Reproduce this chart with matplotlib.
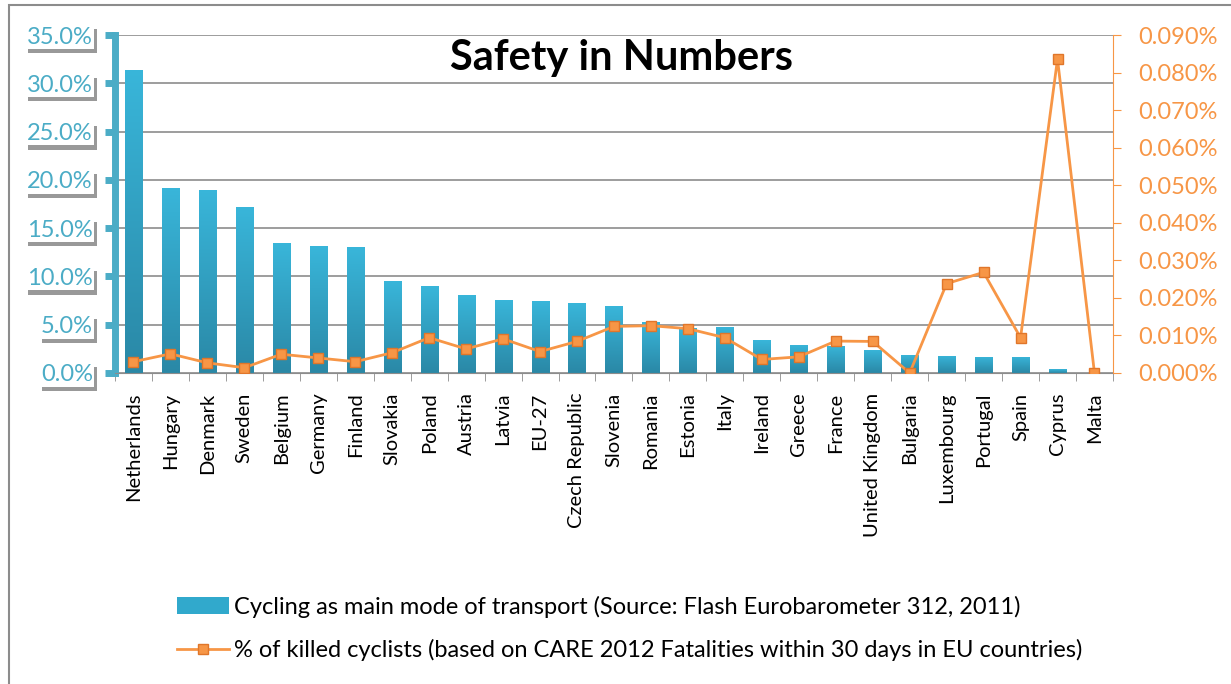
import numpy as np
import matplotlib
matplotlib.use('Agg')
import matplotlib.pyplot as plt
import matplotlib.patheffects as pe
from matplotlib.patches import Rectangle
from matplotlib.ticker import FuncFormatter, MultipleLocator

countries = ['Netherlands', 'Hungary', 'Denmark', 'Sweden', 'Belgium', 'Germany',
             'Finland', 'Slovakia', 'Poland', 'Austria', 'Latvia', 'EU-27',
             'Czech Republic', 'Slovenia', 'Romania', 'Estonia', 'Italy', 'Ireland',
             'Greece', 'France', 'United Kingdom', 'Bulgaria', 'Luxembourg',
             'Portugal', 'Spain', 'Cyprus', 'Malta']
# cycling as main mode of transport (%)
cycling = [31.4, 19.2, 19.0, 17.2, 13.5, 13.1, 13.0, 9.5, 9.0, 8.1, 7.6, 7.45,
           7.2, 6.9, 5.3, 4.7, 4.8, 3.4, 2.9, 2.8, 2.4, 1.9, 1.8, 1.7, 1.7, 0.4, 0.0]
# killed cyclists (%)
killed = [0.0030, 0.0051, 0.0027, 0.0014, 0.0050, 0.0040, 0.0030, 0.0054, 0.0094,
          0.0064, 0.0091, 0.0057, 0.0084, 0.0124, 0.0126, 0.0118, 0.0094, 0.0036,
          0.0043, 0.0085, 0.0084, 0.0000, 0.0238, 0.0268, 0.0094, 0.0836, 0.0000]

plt.rcParams['font.family'] = ['Lato', 'DejaVu Sans']

fig = plt.figure(figsize=(12.31, 6.84), dpi=100)
ax = fig.add_axes([0.0934, 0.4547, 0.8107, 0.4941])
ax2 = ax.twinx()

x = np.arange(len(countries))
bars = ax.bar(x, cycling, width=0.46, color='#31A9CC', zorder=2,
              label='Cycling as main mode of transport (Source: Flash Eurobarometer 312, 2011)')

# vertical gradient inside each bar
grad = np.linspace(0, 1, 256).reshape(-1, 1)
cmap = matplotlib.colors.LinearSegmentedColormap.from_list('bar', ['#2A88A6', '#39B6DA'])
for b in bars:
    if b.get_height() <= 0:
        continue
    im = ax.imshow(grad, cmap=cmap, origin='lower', aspect='auto', zorder=2.5,
                   extent=[b.get_x(), b.get_x() + b.get_width(), 0, b.get_height()])
    im.set_clip_path(b)

ax.set_xlim(-0.5, len(countries) - 0.5)
ax.set_ylim(0, 35)
ax.yaxis.set_major_locator(MultipleLocator(5))
ax.yaxis.set_major_formatter(FuncFormatter(lambda v, p: f'{v:.1f}%'))
ax.grid(axis='y', color='#8C8C8C', linewidth=1.2, zorder=0)
ax.set_axisbelow(True)

ax.set_xticks(x)
ax.set_xticklabels(countries, rotation=90, fontsize=14.5)
ax.set_xticks(np.arange(len(countries) + 1) - 0.5, minor=True)
ax.tick_params(axis='x', which='major', length=0, pad=14)
ax.tick_params(axis='x', which='minor', length=6, color='#8C8C8C')

ax.spines['left'].set_color('#4BACC6')
ax.spines['left'].set_linewidth(5)
ax.spines['bottom'].set_color('#8C8C8C')
ax.spines['top'].set_visible(False)
ax.spines['right'].set_visible(False)
ax.tick_params(axis='y', which='major', length=7, width=5, color='#4BACC6',
               labelcolor='#4BACC6', labelsize=17, pad=9)
for lbl in ax.get_yticklabels():
    lbl.set_bbox(dict(facecolor='white', edgecolor='none', pad=1))
    lbl.get_bbox_patch().set_path_effects(
        [pe.SimplePatchShadow(offset=(2, -3), shadow_rgbFace='#555555', alpha=0.6), pe.Normal()])

ax2.plot(x, killed, color='#F79646', linewidth=2, marker='s', markersize=7,
         markerfacecolor='#F79646', markeredgecolor='#E0762A', zorder=3,
         label='% of killed cyclists (based on CARE 2012 Fatalities within 30 days in EU countries)')
ax2.set_ylim(0, 0.09)
ax2.yaxis.set_major_locator(MultipleLocator(0.01))
ax2.yaxis.set_major_formatter(FuncFormatter(lambda v, p: f'{v:.3f}%'))
ax2.tick_params(axis='y', length=6, color='#F79646', labelcolor='#F79646',
                labelsize=17, pad=12)
ax2.spines['right'].set_color('#F79646')
for s in ['left', 'top', 'bottom']:
    ax2.spines[s].set_visible(False)

fig.text(0.5045, 1 - 70 / 684, 'Safety in Numbers', fontsize=30, fontweight='bold',
         ha='center', va='baseline')

h1, l1 = ax.get_legend_handles_labels()
h2, l2 = ax2.get_legend_handles_labels()
fig.legend(h1 + h2, l1 + l2, loc='upper left', bbox_to_anchor=(0.136, 0.143),
           frameon=False, fontsize=17, labelspacing=0.9, handlelength=2.2,
           handletextpad=0.2, borderaxespad=0)

fig.patches.append(Rectangle((0.007, -0.01), 1.0, 1.003, transform=fig.transFigure,
                             fill=False, edgecolor='#8C8C8C', linewidth=1.5))

plt.savefig('out.png', dpi=100)
plt.close()
